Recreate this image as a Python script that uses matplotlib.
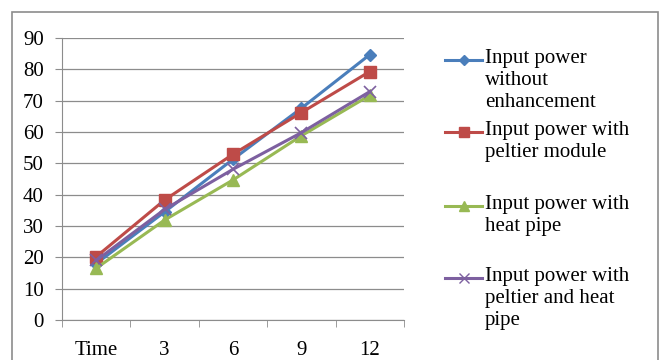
import matplotlib
matplotlib.use("Agg")
import matplotlib.pyplot as plt
from matplotlib.patches import Rectangle
from matplotlib.lines import Line2D

# data
categories = ["Time", "3", "6", "9", "12"]
without_enh = [18, 34.5, 51.3, 67.6, 84.7]
with_peltier = [20.2, 38.3, 52.9, 66.2, 79.3]
with_heatpipe = [16.5, 31.9, 44.7, 58.8, 71.7]
with_both = [19, 35.3, 48.1, 59.8, 72.9]

labels = ["Input power\nwithout\nenhancement",
          "Input power with\npeltier module",
          "Input power with\nheat pipe",
          "Input power with\npeltier and heat\npipe"]

plt.rcParams['font.family'] = ['Liberation Serif', 'DejaVu Serif']
fs = 15

fig = plt.figure(figsize=(6.62, 3.6), dpi=100)
W, H = 662, 360
# outer chart border
fig.patches.append(Rectangle((12 / W, -0.1), 646 / W, 1 - 12 / H + 0.1,
                             transform=fig.transFigure, fill=False,
                             edgecolor='#8c8c8c', linewidth=1.2))

ax = fig.add_axes([62 / W, 1 - 320 / H, (404 - 62) / W, (320 - 38) / H])

x = list(range(len(categories)))
series = [without_enh, with_peltier, with_heatpipe, with_both]
colors = ['#4A7EBB', '#BE4B48', '#98B954', '#7D60A0']
markers = ['D', 's', '^', 'x']
msizes = [6, 9, 9, 8]
for s, c, m, ms in zip(series, colors, markers, msizes):
    ax.plot(x, s, color=c, marker=m, markersize=ms, linewidth=2.2,
            markeredgewidth=1 if m != 'x' else 1.2, zorder=3)

ax.set_xlim(-0.5, len(categories) - 0.5)
ax.set_ylim(0, 90)
ax.set_yticks(range(0, 91, 10))
ax.set_xticks(x)
ax.set_xticklabels(categories)
ax.set_xticks([i - 0.5 for i in range(len(categories) + 1)], minor=True)
ax.tick_params(axis='x', which='major', length=0, pad=15, labelsize=fs)
ax.tick_params(axis='x', which='minor', length=5, color='#8c8c8c', direction='out')
ax.tick_params(axis='y', length=5, color='#8c8c8c', labelsize=fs, pad=8)
ax.grid(axis='y', color='#8c8c8c', linewidth=0.9)
ax.set_axisbelow(True)
for side in ['top', 'right']:
    ax.spines[side].set_visible(False)
for side in ['left', 'bottom']:
    ax.spines[side].set_color('#8c8c8c')

# legend, laid out like the spreadsheet one: marker on the first text line
entry_y = [60, 132, 206, 278]
for lab, c, m, ms, yy in zip(labels, colors, markers, msizes, entry_y):
    fy = 1 - yy / H
    fig.add_artist(Line2D([445 / W, 463.5 / W, 482 / W], [fy, fy, fy], transform=fig.transFigure,
                          color=c, marker=m, markersize=ms * 0.85, markevery=[1],
                          linewidth=2.2, markeredgewidth=1 if m != 'x' else 1.0))
    fig.text(485 / W, fy + 11 / H, lab, fontsize=fs, va='top', ha='left',
             linespacing=1.22)

fig.savefig("out.png", dpi=100)
